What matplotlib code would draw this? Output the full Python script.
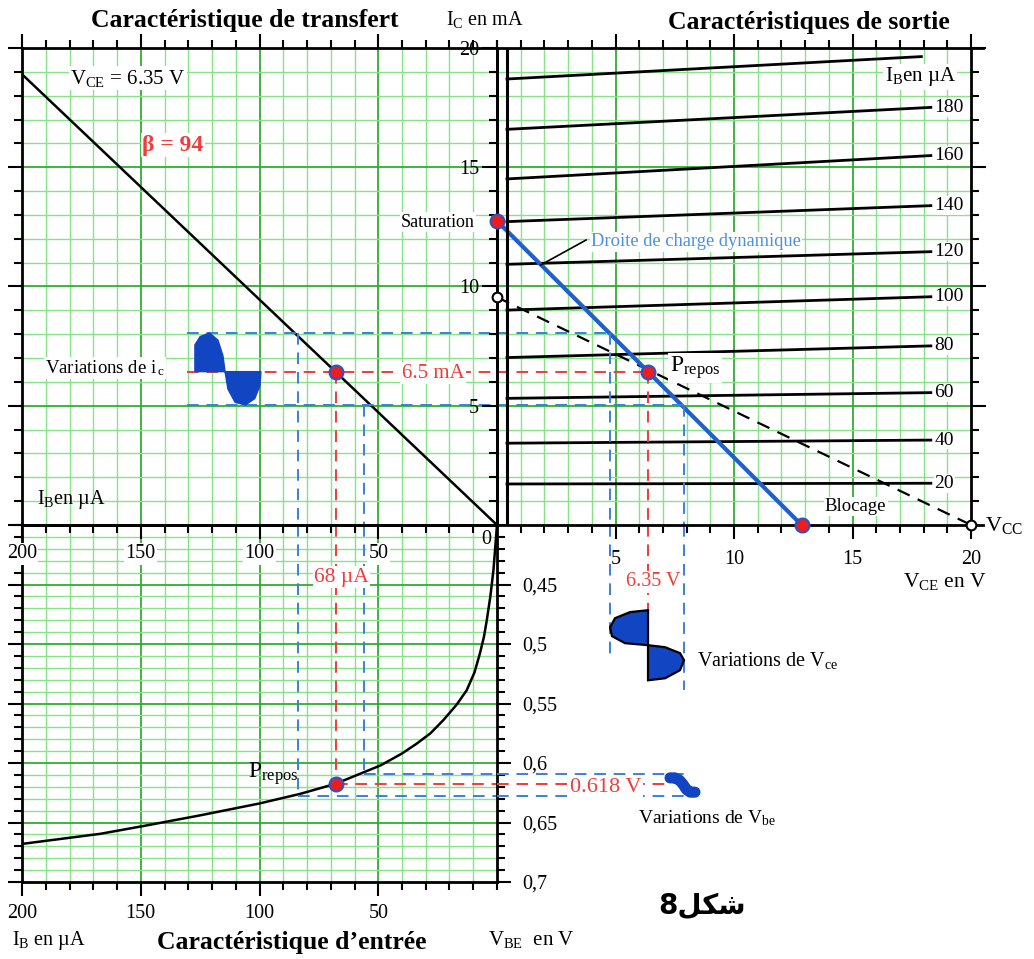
import numpy as np
import matplotlib.pyplot as plt
from matplotlib.ticker import MultipleLocator, FixedLocator, FixedFormatter

plt.rcParams['font.family'] = ['Liberation Serif', 'DejaVu Sans']
plt.rcParams['mathtext.fontset'] = 'custom'
plt.rcParams['mathtext.rm'] = 'Liberation Serif'
plt.rcParams['mathtext.it'] = 'Liberation Serif:italic'
plt.rcParams['mathtext.bf'] = 'Liberation Serif:bold'

#%% Données
ib_transfert = [0, 200]
ic_transfert = [0, 18.9]

ib_courbes = [20, 40, 60, 80, 100, 120, 140, 160, 180, 200]
ic_debut = [1.72, 3.43, 5.31, 7.02, 9.01, 10.93, 12.72, 14.51, 16.59, 18.70]
ic_fin = [1.75, 3.56, 5.55, 7.51, 9.57, 11.46, 13.39, 15.49, 17.51, 19.64]
vce_fin = [18.3, 18.3, 18.3, 18.3, 18.3, 18.3, 18.3, 18.3, 18.3, 17.9]
vce_debut = 0.42

ib_entree = [200, 167, 149, 125, 100, 83, 68, 49, 40, 34, 28, 22.6, 17, 12.8, 9.5, 7.2, 5.5, 4.3, 2.8, 1.5, 0]
vbe_entree = [0.668, 0.6595, 0.653, 0.644, 0.634, 0.626, 0.6175, 0.602, 0.592, 0.584, 0.575,
              0.564, 0.551, 0.539, 0.524, 0.508, 0.494, 0.48, 0.46, 0.438, 0.4]

vbe_ticks = [0.45, 0.5, 0.55, 0.6, 0.65, 0.7]
vbe_labels = ['0,45', '0,5', '0,55', '0,6', '0,65', '0,7']

# droites de charge
vce_dyn = [0, 12.85]
ic_dyn = [12.75, 0]
vce_stat = [0, 20]
ic_stat = [9.55, 0]

# point de repos et excursions
ib_q, ic_q, vce_q, vbe_q = 68, 6.43, 6.39, 0.6175
ic_haut, ic_bas = 8.05, 5.03
ib_haut, ib_bas = 84, 56
vce_min, vce_max = 4.77, 7.9
vbe_min, vbe_max = 0.609, 0.628

# contours des signaux dessinés
ic_onde_ib = [127.2, 127.2, 125, 121, 117.5, 115.4, 114.5, 113.3, 110.3, 106, 102, 99.8, 99.4]
ic_onde_ic = [6.43, 7.55, 7.9, 8.05, 7.75, 7.1, 6.43, 5.7, 5.15, 5.03, 5.3, 5.85, 6.43]
vce_onde_vce = [6.37, 5.61, 4.98, 4.77, 4.85, 5.4, 6.37, 7.09, 7.72, 7.89, 7.72, 7.09, 6.37]
vce_onde_t = [0.4716, 0.4732, 0.4783, 0.4859, 0.4934, 0.4993, 0.501, 0.5027, 0.5077,
              0.5136, 0.522, 0.5288, 0.5305]
vbe_onde_t = [7.3, 7.5, 7.7, 7.85, 8.0, 8.15, 8.35]
vbe_onde_vbe = [0.6125, 0.6125, 0.6145, 0.618, 0.6225, 0.6245, 0.6245]

#%% Figure
W, H = 1034, 959
fig = plt.figure(figsize=(W / 100, H / 100), dpi=100)

def rect(x0, y0, x1, y1):
    return [x0 / W, 1 - y1 / H, (x1 - x0) / W, (y1 - y0) / H]

ax_e = fig.add_axes(rect(22, 525, 497, 882))  # entrée
ax_v = fig.add_axes(rect(497, 525, 983, 882)) # variations
ax_t = fig.add_axes(rect(22, 48, 497, 525))   # transfert
ax_s = fig.add_axes(rect(497, 48, 983, 525))  # sortie
for ax in (ax_t, ax_s, ax_e, ax_v):
    ax.set_facecolor('none')

ax_t.set_xlim(200, 0); ax_t.set_ylim(0, 20)
ax_s.set_xlim(0, 20.5); ax_s.set_ylim(0, 20)
ax_e.set_xlim(200, 0); ax_e.set_ylim(0.7, 0.4)
ax_v.set_xlim(0, 20.5); ax_v.set_ylim(0.7, 0.4)
ax_v.axis('off')

#%% Quadrillage vert
G_MIN = '#86e486'
G_MAJ = '#2fae2f'

def quadrillage(ax, xs, ys, x_span, y_span, x_pas, y_pas):
    for x in xs:
        maj = abs(x / x_pas - round(x / x_pas)) < 1e-6
        ax.plot([x, x], y_span, color=G_MAJ if maj else G_MIN, lw=1.3 if maj else 1.0, zorder=0)
    for y in ys:
        maj = abs(y / y_pas - round(y / y_pas)) < 1e-6
        ax.plot(x_span, [y, y], color=G_MAJ if maj else G_MIN, lw=1.3 if maj else 1.0, zorder=0)

quadrillage(ax_t, np.arange(10, 200, 10), np.arange(1, 20), (0, 200), (0, 20), 50, 5)
quadrillage(ax_s, np.arange(1, 20), np.arange(1, 20), (0, 20), (0, 20), 5, 5)
quadrillage(ax_e, np.arange(10, 200, 10), np.round(np.arange(41, 70) / 100, 2), (0, 200), (0.4, 0.7), 50, 0.05)

#%% Axes et graduations
for ax in (ax_t, ax_s, ax_e):
    for sp in ax.spines.values():
        sp.set_linewidth(2)
        sp.set_color('black')
        sp.set_zorder(5)
ax_s.spines['right'].set_position(('data', 20))

TL = 14.5
ax_t.xaxis.set_major_locator(FixedLocator([200, 150, 100, 50]))
ax_t.xaxis.set_minor_locator(MultipleLocator(10))
ax_t.yaxis.set_major_locator(MultipleLocator(5))
ax_t.yaxis.set_minor_locator(MultipleLocator(1))
ax_t.tick_params(axis='x', which='both', top=True, bottom=True, direction='out', width=1.5,
                 labelsize=TL, pad=4)
ax_t.tick_params(axis='y', which='both', left=True, right=False, labelleft=False,
                 direction='out', width=1.5)
ax_t.tick_params(which='major', length=10)
ax_t.tick_params(which='minor', length=6)
for lab in ax_t.get_xticklabels():
    lab.set_bbox(dict(fc='white', ec='none', pad=1))

ax_s.xaxis.set_major_locator(FixedLocator([5, 10, 15, 20]))
ax_s.xaxis.set_minor_locator(MultipleLocator(1))
ax_s.yaxis.set_major_locator(FixedLocator([5, 10, 15, 20]))
ax_s.yaxis.set_minor_locator(MultipleLocator(1))
ax_s.tick_params(axis='x', which='both', top=True, bottom=True, direction='out', width=1.5,
                 labelsize=TL, pad=8)
ax_s.tick_params(axis='y', which='both', left=True, right=True, direction='out', width=1.5,
                 labelsize=TL, pad=2)
ax_s.tick_params(which='major', length=10)
ax_s.tick_params(axis='y', which='major', length=11)
ax_s.tick_params(which='minor', length=6)

ax_e.xaxis.set_major_locator(FixedLocator([200, 150, 100, 50]))
ax_e.xaxis.set_minor_locator(MultipleLocator(10))
ax_e.yaxis.set_major_locator(FixedLocator(vbe_ticks))
ax_e.yaxis.set_major_formatter(FixedFormatter(vbe_labels))
ax_e.yaxis.set_minor_locator(MultipleLocator(0.01))
ax_e.tick_params(axis='x', which='both', top=False, bottom=True, direction='out', width=1.5,
                 labelsize=TL, pad=6)
ax_e.tick_params(axis='y', which='both', left=True, right=True, labelleft=False, labelright=True,
                 direction='out', width=1.5, labelsize=TL, pad=8)
ax_e.tick_params(which='major', length=10)
ax_e.tick_params(which='minor', length=6)

#%% Caractéristiques
ax_t.plot(ib_transfert, ic_transfert, color='black', lw=1.8, zorder=3)
for ib, i0, i1, vf in zip(ib_courbes, ic_debut, ic_fin, vce_fin):
    ax_s.plot([vce_debut, vf], [i0, i1], color='black', lw=2, zorder=3)
    if ib != 200:
        ax_s.text(18.45, i1, str(ib), ha='left', va='center', fontsize=14, zorder=6,
                  bbox=dict(fc='white', ec='none', pad=0.5))
ax_s.plot([vce_debut, vce_debut], [0, 20], color='black', lw=2.2, zorder=5)
ax_e.plot(ib_entree, vbe_entree, color='black', lw=1.8, zorder=3)

ax_s.plot(vce_stat, ic_stat, color='black', lw=1.6, ls=(0, (6, 4)), zorder=3)
ax_s.plot(vce_dyn, ic_dyn, color='#1f5fcf', lw=3, zorder=4)
ax_s.plot([3.76, 1.84], [11.95, 10.9], color='black', lw=1.2, zorder=4)

#%% Projections en pointillés
ROUGE = '#f03c3c'
BLEU = '#3b7fe0'
TIRET = (0, (6, 4))
kw_r = dict(color=ROUGE, lw=1.4, ls=TIRET, zorder=4)
kw_b = dict(color=BLEU, lw=1.4, ls=TIRET, zorder=4)

ax_t.plot([130.5, 0], [ic_q, ic_q], **kw_r)
ax_t.plot([ib_q, ib_q], [ic_q, 0], **kw_r)
ax_s.plot([0, vce_q], [ic_q, ic_q], **kw_r)
ax_s.plot([vce_q, vce_q], [ic_q, 0], **kw_r)
ax_v.plot([vce_q, vce_q], [0.4, 0.4716], **kw_r)
ax_e.plot([ib_q, ib_q], [0.4, vbe_q], **kw_r)
ax_e.plot([ib_q, 0], [vbe_q, vbe_q], **kw_r)
ax_v.plot([0, 7.2], [vbe_q, vbe_q], **kw_r)

ax_t.plot([130.5, 0], [ic_haut, ic_haut], **kw_b)
ax_t.plot([130.5, 0], [ic_bas, ic_bas], **kw_b)
ax_t.plot([ib_haut, ib_haut], [ic_haut, 0], **kw_b)
ax_t.plot([ib_bas, ib_bas], [ic_bas, 0], **kw_b)
ax_s.plot([0, vce_min], [ic_haut, ic_haut], **kw_b)
ax_s.plot([0, vce_max], [ic_bas, ic_bas], **kw_b)
ax_s.plot([vce_min, vce_min], [ic_haut, 0], **kw_b)
ax_s.plot([vce_max, vce_max], [ic_bas, 0], **kw_b)
ax_v.plot([vce_min, vce_min], [0.4, 0.511], **kw_b)
ax_v.plot([vce_max, vce_max], [0.4, 0.539], **kw_b)
ax_e.plot([ib_haut, ib_haut], [0.4, vbe_max], **kw_b)
ax_e.plot([ib_bas, ib_bas], [0.4, vbe_min], **kw_b)
ax_e.plot([ib_haut, 0], [vbe_max, vbe_max], **kw_b)
ax_e.plot([ib_bas, 0], [vbe_min, vbe_min], **kw_b)
ax_v.plot([0, 8.15], [vbe_max, vbe_max], **kw_b)
ax_v.plot([0, 8.15], [vbe_min, vbe_min], **kw_b)

#%% Signaux
BLEU_F = '#1245c2'
ax_t.fill(ic_onde_ib, ic_onde_ic, color=BLEU_F, zorder=5)
ax_v.fill(vce_onde_vce, vce_onde_t, facecolor=BLEU_F, edgecolor='black', lw=1.6, zorder=5)
ax_v.plot(vbe_onde_t, vbe_onde_vbe, color=BLEU_F, lw=8, solid_capstyle='round',
          solid_joinstyle='round', zorder=5)

#%% Points
kw_pt = dict(marker='o', ms=10, mfc='#ee1c1c', mec='#2a55c8', mew=1.5, ls='none', zorder=7, clip_on=False)
ax_s.plot([0, 12.85, vce_q], [12.75, 0, ic_q], **kw_pt)
ax_t.plot([ib_q], [ic_q], **kw_pt)
ax_e.plot([ib_q], [vbe_q], **kw_pt)
kw_o = dict(marker='o', ms=7, mfc='white', mec='black', mew=1.5, ls='none', zorder=7, clip_on=False)
ax_s.plot([0, 20], [9.55, 0], **kw_o)

#%% Textes
blanc = dict(fc='white', ec='none', pad=1)
ax_t.text(179.8, 18.74, r'V$_{\mathrm{CE}}$ = 6.35 V', fontsize=15, va='center', bbox=blanc, zorder=6)
ax_t.text(149.5, 15.93, 'β = 94', fontsize=17, fontweight='bold', color=ROUGE,
          va='center', bbox=blanc, zorder=6)
ax_t.text(190.3, 6.58, r'Variations de i$_{\,\mathrm{c}}$', fontsize=13.5, va='center', bbox=blanc, zorder=6)
ax_t.text(27, 6.36, '6.5 mA', fontsize=15, color=ROUGE, ha='center', va='center', bbox=blanc, zorder=6)
ax_t.text(193.5, 1.05, r'I$_{\mathrm{B}}$en µA', fontsize=14.5, va='center', zorder=6)
ax_t.text(9.3, 12.7, 'Saturation', fontsize=13, ha='right', va='center', bbox=blanc, zorder=6)

ax_s.text(3.97, 11.88, 'Droite de charge dynamique', fontsize=13.3, color='#4a90e2',
          va='center', bbox=blanc, zorder=6)
ax_s.text(16.35, 18.8, r'I$_{\mathrm{B}}$en µA', fontsize=15, va='center', bbox=blanc, zorder=6)
ax_s.text(7.28, 6.58, r'P$_{\mathrm{repos}}$', fontsize=17, va='center', bbox=blanc, zorder=6)
ax_s.text(13.83, 0.77, 'Blocage', fontsize=13.5, va='center', bbox=blanc, zorder=6)
ax_s.text(20.6, 0, r'V$_{\mathrm{CC}}$', fontsize=16, va='center', clip_on=False)

ax_e.text(65.5, 0.4438, '68 µA', fontsize=15.5, color=ROUGE, ha='center', va='center', bbox=blanc, zorder=6)
ax_e.text(83.5, 0.609, r'P$_{\mathrm{repos}}$', fontsize=17, ha='right', va='center', zorder=6)
ax_e.text(4.6, 0.4126, '0', fontsize=TL, ha='center', va='center', zorder=6)

ax_v.text(6.6, 0.4477, '6.35 V', fontsize=14.5, color=ROUGE, ha='center', va='center', bbox=blanc, zorder=6)
ax_v.text(8.44, 0.5136, r'Variations de V$_{\mathrm{ce}}$', fontsize=14.5, va='center', zorder=6)
ax_v.text(4.6, 0.6203, '0.618 V', fontsize=16, color=ROUGE, ha='center', va='center', bbox=blanc, zorder=6)
ax_v.text(5.95, 0.6466, r'Variations de V$_{\mathrm{be}}$', fontsize=14, va='center', zorder=6)
ax_v.text(8.65, 0.72, '8\ufede\ufedc\ufeb7', fontsize=20, fontweight='bold', family=['DejaVu Sans'],
          ha='center', va='center', clip_on=False)

fig.text(245 / W, 1 - 20 / H, 'Caractéristique de transfert', fontsize=18.5, fontweight='bold',
         ha='center', va='center')
fig.text(446 / W, 1 - 20 / H, r'I$_{\mathrm{C}}$ en mA', fontsize=14.5, ha='left', va='center')
fig.text(809 / W, 1 - 22 / H, 'Caractéristiques de sortie', fontsize=18.5, fontweight='bold',
         ha='center', va='center')
fig.text(903 / W, 1 - 582 / H, r'V$_{\mathrm{CE}}$ en V', fontsize=15.5, ha='left', va='center')
fig.text(12 / W, 1 - 940 / H, r'I$_{\mathrm{B}}$ en µA', fontsize=14.5, ha='left', va='center')
fig.text(292 / W, 1 - 942 / H, 'Caractéristique d’entrée', fontsize=18.5, fontweight='bold',
         ha='center', va='center')
fig.text(488 / W, 1 - 940 / H, r'V$_{\mathrm{BE}}$  en V', fontsize=15, ha='left', va='center')

fig.savefig('out.png', dpi=100)
